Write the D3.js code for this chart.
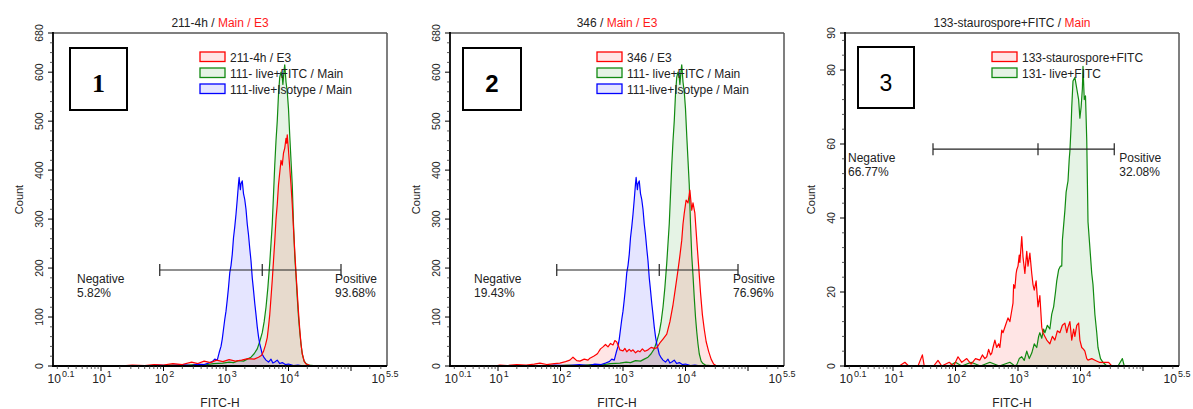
<!DOCTYPE html>
<html><head><meta charset="utf-8">
<script src="https://cdn.jsdelivr.net/npm/d3@7"></script>
<style>body{margin:0;background:#fff}svg{display:block}</style>
</head><body><svg id="c" width="1193" height="409" font-family='"Liberation Sans",Arial,sans-serif'></svg>
<script>
// ---------- DATA: [log10(FITC-H), Count] ----------
const isotypeLive111 = [[1.20,0],[1.45,1],[1.70,0],[1.90,2],[2.10,1],[2.30,3],[2.45,1],[2.55,4],[2.65,3],[2.72,6],[2.78,9],[2.82,14],[2.86,12],[2.89,27],[2.92,40],[2.94,55],[2.96,75],[2.98,95],[3.00,112],[3.02,135],[3.04,160],[3.06,190],[3.08,205],[3.10,228],[3.12,262],[3.14,284],[3.16,310],[3.18,340],[3.20,372],[3.21,385],[3.23,360],[3.24,372],[3.26,378],[3.28,352],[3.30,340],[3.32,320],[3.34,290],[3.36,268],[3.38,240],[3.40,215],[3.42,180],[3.44,155],[3.46,128],[3.48,105],[3.50,80],[3.52,60],[3.54,45],[3.56,35],[3.58,24],[3.61,17],[3.64,12],[3.68,8],[3.72,14],[3.75,6],[3.78,8],[3.82,12],[3.86,5],[3.90,7],[3.95,3],[4.00,4],[4.08,1],[4.15,2],[4.25,0],[4.40,1],[4.55,0],[4.70,1],[4.85,0]];
const fitcLive111 = [[1.30,0],[1.60,1],[1.90,0],[2.10,2],[2.30,1],[2.50,3],[2.65,2],[2.80,5],[2.95,6],[3.05,8],[3.12,7],[3.20,11],[3.28,10],[3.34,14],[3.40,18],[3.45,25],[3.50,35],[3.54,50],[3.58,68],[3.61,90],[3.64,120],[3.67,160],[3.70,210],[3.72,250],[3.74,290],[3.76,350],[3.78,410],[3.80,460],[3.82,500],[3.84,555],[3.86,590],[3.88,600],[3.90,590],[3.91,575],[3.93,605],[3.94,615],[3.96,580],[3.98,560],[4.00,525],[4.02,470],[4.04,420],[4.06,370],[4.08,290],[4.10,225],[4.12,185],[4.14,140],[4.16,100],[4.18,70],[4.20,45],[4.22,25],[4.25,10],[4.28,5],[4.32,2],[4.40,1],[4.50,0],[4.60,1],[4.75,0]];
const e3_211_4h = [[1.30,0],[1.50,2],[1.70,1],[1.85,3],[2.00,2],[2.15,5],[2.30,3],[2.45,8],[2.55,5],[2.65,10],[2.75,7],[2.85,12],[2.95,9],[3.05,13],[3.15,10],[3.25,12],[3.35,15],[3.45,14],[3.52,18],[3.57,22],[3.60,30],[3.63,42],[3.66,58],[3.68,80],[3.70,105],[3.72,140],[3.74,175],[3.76,215],[3.78,255],[3.80,300],[3.82,330],[3.84,370],[3.86,395],[3.88,420],[3.90,410],[3.92,435],[3.94,445],[3.96,465],[3.97,455],[3.98,472],[4.00,440],[4.02,405],[4.04,370],[4.06,330],[4.08,280],[4.10,235],[4.12,190],[4.14,150],[4.16,110],[4.18,75],[4.20,45],[4.22,25],[4.25,10],[4.28,4],[4.35,1],[4.45,0]];
const e3_346 = [[0.95,0],[1.03,2],[1.15,1],[1.30,3],[1.45,2],[1.58,4],[1.67,6],[1.78,3],[1.90,5],[1.99,6],[2.08,9],[2.15,12],[2.20,18],[2.26,11],[2.31,10],[2.38,14],[2.44,12],[2.47,16],[2.53,20],[2.58,24],[2.60,27],[2.64,35],[2.68,39],[2.72,44],[2.76,39],[2.80,46],[2.84,43],[2.87,52],[2.90,49],[2.93,40],[2.95,33],[3.00,31],[3.03,36],[3.06,29],[3.10,34],[3.13,30],[3.16,33],[3.20,27],[3.24,31],[3.27,29],[3.31,35],[3.35,30],[3.40,33],[3.45,38],[3.50,36],[3.54,37],[3.59,47],[3.64,55],[3.70,65],[3.75,90],[3.80,125],[3.84,160],[3.88,196],[3.91,225],[3.94,257],[3.96,290],[3.98,312],[4.01,339],[4.04,333],[4.07,359],[4.10,318],[4.12,333],[4.15,312],[4.18,257],[4.21,205],[4.24,150],[4.27,105],[4.30,75],[4.33,50],[4.37,30],[4.41,14],[4.45,4],[4.50,0]];
const stauro133 = [[1.10,0],[1.19,1],[1.25,0],[1.40,0],[1.47,3],[1.50,0],[1.65,0],[1.72,1.5],[1.78,0],[1.90,1],[1.97,0],[2.04,2.5],[2.10,1],[2.18,2],[2.25,0.5],[2.32,2],[2.39,1.6],[2.43,3],[2.47,2],[2.50,2.5],[2.53,4.5],[2.56,3],[2.58,3.5],[2.60,5],[2.63,7],[2.66,5],[2.69,6],[2.71,5],[2.74,9.7],[2.76,9],[2.80,11],[2.84,13],[2.87,12],[2.90,15],[2.92,17],[2.93,22],[2.95,21],[2.97,25],[2.98,26],[3.00,27],[3.02,30],[3.03,28],[3.06,35],[3.08,29.5],[3.11,25],[3.14,31],[3.16,27],[3.19,30.5],[3.22,25],[3.24,22],[3.26,20.5],[3.29,23],[3.32,16],[3.35,19],[3.38,10.5],[3.40,9],[3.43,8],[3.46,7],[3.51,6],[3.55,8],[3.59,7],[3.63,9.5],[3.67,9],[3.71,11],[3.75,11.6],[3.78,9],[3.80,10.5],[3.83,12],[3.86,7],[3.89,10],[3.91,8],[3.94,11],[3.97,11.6],[3.99,7],[4.02,5],[4.05,4.5],[4.07,4],[4.10,2],[4.12,1.6],[4.18,2],[4.24,1.5],[4.30,1],[4.38,1],[4.45,1],[4.50,0]];
const fitcLive131 = [[1.90,0],[2.00,1],[2.10,0],[2.25,1],[2.40,0],[2.55,1],[2.70,0],[2.87,1],[2.95,0],[2.98,0.3],[3.02,2],[3.06,2.5],[3.10,1.5],[3.14,4],[3.18,2],[3.22,3.5],[3.26,6],[3.30,5],[3.33,8],[3.35,9],[3.38,7.5],[3.41,10],[3.43,9],[3.47,11],[3.51,10],[3.54,14],[3.57,16],[3.60,20],[3.62,23],[3.65,26],[3.68,27],[3.70,27],[3.71,34],[3.73,38],[3.75,42],[3.77,47],[3.79,49],[3.80,50],[3.82,56],[3.83,58],[3.85,65],[3.86,70],[3.88,77],[3.91,78],[3.94,75],[3.97,72],[3.99,67],[4.01,70],[4.03,75],[4.04,81],[4.06,72],[4.08,73],[4.10,61],[4.12,39],[4.15,32],[4.18,25],[4.20,22],[4.23,14],[4.26,9],[4.28,5],[4.32,2],[4.36,1],[4.42,0],[4.60,0],[4.67,2],[4.70,0]];

const xTickExps = [1,2,3,4,5];
const xTickLabels = ["1","2","3","4",""];
const xEdgeLabels = ["0.1","5.5"];
const yMaxes = [680,680,90];
const yTicks12 = [0,100,200,300,400,500,600,680];
const yTicks3 = [0,20,40,60,80,90];
const yMinorSteps = [20,20,4];
const titles = [
  [["211-4h / ","#222"],["Main / E3","#ff1a1a"]],
  [["346 / ","#222"],["Main / E3","#ff1a1a"]],
  [["133-staurospore+FITC / ","#222"],["Main","#ff1a1a"]]
];
const legendNames = [
  ["211-4h / E3","111- live+FITC / Main","111-live+Isotype / Main"],
  ["346 / E3","111- live+FITC / Main","111-live+Isotype / Main"],
  ["133-staurospore+FITC","131- live+FITC"]
];
const gateLog = [[1.94,3.58,4.84],[1.94,3.58,4.84],[1.64,3.32,4.54]];
const gateCount = [196,196,58.6];
const negPct = ["5.82%","19.43%","66.77%"];
const posPct = ["93.68%","76.96%","32.08%"];
const panelNums = ["1","2","3"];

// ---------- LAYOUT ----------
const RED="#ff0000", GREEN="#118a11", BLUE="#0000ff";
const FR="rgba(255,0,0,0.1)", FG="rgba(0,140,0,0.1)", FB="rgba(0,0,255,0.1)";
const LEFTS=[53,450,845], PW=334, TOP=33, BOT=366;
const seriesSets = [
  [{d:fitcLive111,c:GREEN,f:FG},{d:isotypeLive111,c:BLUE,f:FB},{d:e3_211_4h,c:RED,f:FR}],
  [{d:fitcLive111,c:GREEN,f:FG},{d:isotypeLive111,c:BLUE,f:FB},{d:e3_346,c:RED,f:FR}],
  [{d:fitcLive131,c:GREEN,f:FG},{d:stauro133,c:RED,f:FR}]
];
const legendStyles = [[[RED,FR],[GREEN,FG],[BLUE,FB]],[[RED,FR],[GREEN,FG],[BLUE,FB]],[[RED,FR],[GREEN,FG]]];
const boxes = [[17,48,57,62],[13,48,58,62],[13,47,56,61]];
const numStyles = [{fam:'"Liberation Serif","Times New Roman",serif',w:"bold",s:26},{fam:'"Liberation Sans",Arial,sans-serif',w:"bold",s:24},{fam:'"Liberation Sans",Arial,sans-serif',w:"normal",s:23}];
const negX=[24,24,3], posDX=[-6,-5,5];

const svg=d3.select("#c");
svg.append("rect").attr("width",1193).attr("height",409).attr("fill","#fff");

for(let p=0;p<3;p++){
  const L=LEFTS[p], R=L+PW;
  const x=d3.scaleLog().domain([Math.pow(10,0.232),Math.pow(10,5.576)]).range([L,R]);
  const y=d3.scaleLinear().domain([0,yMaxes[p]]).range([BOT,TOP]);
  const g=svg.append("g");
  const clipId="clip"+p;
  g.append("clipPath").attr("id",clipId).append("rect").attr("x",L).attr("y",TOP).attr("width",PW).attr("height",BOT-TOP);

  const area=d3.area().x(d=>x(Math.pow(10,d[0]))).y0(BOT).y1(d=>y(d[1]));
  const line=d3.line().x(d=>x(Math.pow(10,d[0]))).y(d=>y(d[1]));
  const hg=g.append("g").attr("clip-path",`url(#${clipId})`);
  seriesSets[p].forEach(s=>hg.append("path").attr("d",area(s.d)).attr("fill",s.f));
  seriesSets[p].forEach(s=>hg.append("path").attr("d",line(s.d)).attr("fill","none").attr("stroke",s.c).attr("stroke-width",1.2).attr("stroke-linejoin","round"));

  g.append("line").attr("x1",L).attr("x2",R).attr("y1",TOP).attr("y2",TOP).attr("stroke","#555").attr("stroke-width",1.5);
  g.append("line").attr("x1",R).attr("x2",R).attr("y1",TOP).attr("y2",BOT).attr("stroke","#555").attr("stroke-width",1.5);
  g.append("line").attr("x1",L).attr("x2",L).attr("y1",TOP-1).attr("y2",BOT+1).attr("stroke","#000").attr("stroke-width",1.8);
  g.append("line").attr("x1",L-1).attr("x2",R).attr("y1",BOT).attr("y2",BOT).attr("stroke","#000").attr("stroke-width",2);

  const minors=[];
  for(let dcd=0;dcd<=5;dcd++) for(let m=2;m<=9;m++){const v=m*Math.pow(10,dcd); if(v>x.domain()[0]&&v<x.domain()[1]) minors.push(v);}
  g.selectAll(null).data(minors).join("line").attr("x1",d=>x(d)).attr("x2",d=>x(d)).attr("y1",BOT).attr("y2",BOT+3).attr("stroke","#333").attr("stroke-width",0.8);
  g.selectAll(null).data(xTickExps).join("line").attr("x1",d=>x(Math.pow(10,d))).attr("x2",d=>x(Math.pow(10,d))).attr("y1",BOT).attr("y2",BOT+5).attr("stroke","#000").attr("stroke-width",1);
  const xl=(px,sup,anchor)=>{const t=g.append("text").attr("x",px).attr("y",383).attr("font-size",12).attr("fill","#222").attr("text-anchor",anchor);
    t.append("tspan").text("10"); t.append("tspan").attr("dy",-6).attr("dx",1).attr("font-size",9).text(sup);};
  xTickExps.forEach((e,i)=>{ if(xTickLabels[i]) xl(x(Math.pow(10,e))+1,xTickLabels[i],"middle"); });
  xl(L+8,xEdgeLabels[0],"middle");
  xl(R-2,xEdgeLabels[1],"middle");
  g.append("text").attr("x",(L+R)/2).attr("y",407).attr("text-anchor","middle").attr("font-size",12).attr("fill","#222").text("FITC-H");

  const yt = p<2?yTicks12:yTicks3;
  const ymin=d3.range(0,yMaxes[p]+0.001,yMinorSteps[p]).filter(v=>!yt.includes(v));
  g.selectAll(null).data(ymin).join("line").attr("x1",L-3).attr("x2",L).attr("y1",d=>y(d)).attr("y2",d=>y(d)).attr("stroke","#333").attr("stroke-width",0.8);
  g.selectAll(null).data(yt).join("line").attr("x1",L-5).attr("x2",L).attr("y1",d=>y(d)).attr("y2",d=>y(d)).attr("stroke","#000").attr("stroke-width",1);
  g.selectAll(null).data(yt).join("text").attr("transform",d=>`translate(${L-10},${y(d)}) rotate(-90)`).attr("text-anchor","middle").attr("font-size",10.5).attr("fill","#222").text(d=>d);
  g.append("text").attr("transform",`translate(${L-30},${(TOP+BOT)/2}) rotate(-90)`).attr("text-anchor","middle").attr("font-size",11).attr("fill","#222").text("Count");

  const tt=g.append("text").attr("x",(L+R)/2).attr("y",27).attr("text-anchor","middle").attr("font-size",12);
  titles[p].forEach(([s,c])=>tt.append("tspan").attr("fill",c).text(s));

  const b=boxes[p];
  g.append("rect").attr("x",L+b[0]).attr("y",b[1]).attr("width",b[2]).attr("height",b[3]).attr("fill","#fff").attr("stroke","#000").attr("stroke-width",2);
  g.append("text").attr("x",L+b[0]+b[2]/2).attr("y",b[1]+44).attr("text-anchor","middle").attr("font-family",numStyles[p].fam).attr("font-weight",numStyles[p].w).attr("font-size",numStyles[p].s).attr("fill","#000").text(panelNums[p]);

  legendNames[p].forEach((nm,i)=>{
    const ly=52+i*16;
    g.append("rect").attr("x",L+147).attr("y",ly).attr("width",25).attr("height",9.5).attr("fill",legendStyles[p][i][1]).attr("stroke",legendStyles[p][i][0]).attr("stroke-width",1.3);
    g.append("text").attr("x",L+177).attr("y",ly+9.5).attr("font-size",12).attr("fill","#222").text(nm);
  });

  const gy=y(gateCount[p]); const gx=gateLog[p].map(e=>x(Math.pow(10,e)));
  g.append("line").attr("x1",gx[0]).attr("x2",gx[2]).attr("y1",gy).attr("y2",gy).attr("stroke","#222").attr("stroke-width",1.2);
  gx.forEach(v=>g.append("line").attr("x1",v).attr("x2",v).attr("y1",gy-6).attr("y2",gy+6).attr("stroke","#222").attr("stroke-width",1.2));
  const nt=g.append("text").attr("font-size",12).attr("fill","#222");
  nt.append("tspan").attr("x",L+negX[p]).attr("y",gy+13).text("Negative");
  nt.append("tspan").attr("x",L+negX[p]).attr("y",gy+27).text(negPct[p]);
  const pt=g.append("text").attr("font-size",12).attr("fill","#222");
  pt.append("tspan").attr("x",gx[2]+posDX[p]).attr("y",gy+13).text("Positive");
  pt.append("tspan").attr("x",gx[2]+posDX[p]).attr("y",gy+27).text(posPct[p]);
}
</script></body></html>
